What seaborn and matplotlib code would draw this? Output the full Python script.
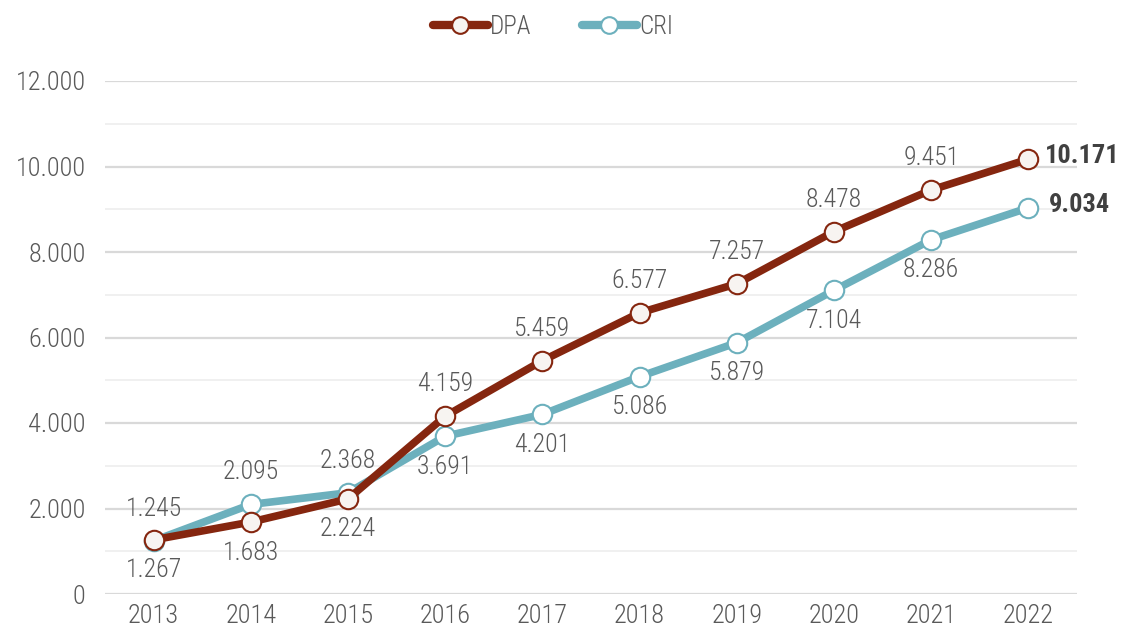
import matplotlib
matplotlib.use("Agg")
import matplotlib.pyplot as plt
import matplotlib.font_manager as fm
import seaborn as sns
import pandas as pd
from matplotlib.lines import Line2D

years = ["2013", "2014", "2015", "2016", "2017", "2018", "2019", "2020", "2021", "2022"]
dpa = [1267, 1683, 2224, 4159, 5459, 6577, 7257, 8478, 9451, 10171]
cri = [1245, 2095, 2368, 3691, 4201, 5086, 5879, 7104, 8286, 9034]
dpa_pos = ["below", "below", "below", "above", "above", "above", "above", "above", "above", "right"]
cri_pos = ["above", "above", "above", "below", "below", "below", "below", "below", "below", "right"]
yticks = [0, 2000, 4000, 6000, 8000, 10000, 12000]
ytick_labels = ["0", "2.000", "4.000", "6.000", "8.000", "10.000", "12.000"]

sns.set_theme(style="white")
fonts = fm.fontManager.ttflist
cands = ["Roboto Condensed", "Open Sans Condensed", "Liberation Sans Narrow", "Noto Sans Condensed"]
names = {f.name for f in fonts}
fam = None
stretch = "normal"
for c in cands:
    if c in names:
        fam = c
        break
if fam is None:
    for pref in ["Roboto", "Noto Sans", "Open Sans", "DejaVu Sans"]:
        for f in fonts:
            if f.name == pref and str(f.stretch) in ("condensed", "semi-condensed", "extra-condensed", "75", "87.5", "62.5"):
                fam = pref
                stretch = f.stretch
                break
        if fam:
            break
if fam is None:
    fam = "DejaVu Sans"
plt.rcParams["font.family"] = [fam, "DejaVu Sans"]
plt.rcParams["font.stretch"] = stretch
plt.rcParams["font.weight"] = "light"

RED = "#85260f"
TEAL = "#6cb0bd"
TXT = "#595959"
FILL = "#f7f4f1"

df = pd.DataFrame({
    "year": years * 2,
    "value": dpa + cri,
    "series": ["DPA"] * len(years) + ["CRI"] * len(years),
})

fig = plt.figure(figsize=(11.22, 6.29), dpi=100)
ax = fig.add_axes([105 / 1122, 35 / 629, 972 / 1122, 513 / 629])

for v in range(1000, 12000, 2000):
    ax.axhline(v, color="#efefef", lw=1.3, zorder=0)
for v in yticks:
    ax.axhline(v, color="#d9d9d9", lw=1.6, zorder=0)

sns.lineplot(data=df[df.series == "CRI"], x="year", y="value", ax=ax, color=TEAL,
             lw=5.5, marker="o", markersize=14, markerfacecolor="white",
             markeredgecolor=TEAL, markeredgewidth=1.5, sort=False, zorder=3, legend=False)
sns.lineplot(data=df[df.series == "DPA"], x="year", y="value", ax=ax, color=RED,
             lw=5.5, marker="o", markersize=14, markerfacecolor=FILL,
             markeredgecolor=RED, markeredgewidth=1.5, sort=False, zorder=4, legend=False)

def fmt(v):
    return f"{v:,}".replace(",", ".")

def label(vals, pos, right_off):
    for i, (v, p) in enumerate(zip(vals, pos)):
        if p == "above":
            ax.annotate(fmt(v), (i, v), xytext=(0, 23), textcoords="offset points",
                        ha="center", va="center", fontsize=18.5, color=TXT, zorder=5)
        elif p == "below":
            ax.annotate(fmt(v), (i, v), xytext=(0, -22), textcoords="offset points",
                        ha="center", va="center", fontsize=18.5, color=TXT, zorder=5)
        else:
            ax.annotate(fmt(v), (i, v), xytext=(right_off, 2), textcoords="offset points",
                        ha="left", va="center", fontsize=19, color="#404040",
                        fontweight="bold", zorder=5)

label(dpa, dpa_pos, 12)
label(cri, cri_pos, 15)

ax.set_xlim(-0.5, 9.5)
ax.set_ylim(0, 12000)
ax.set_yticks(yticks)
ax.set_yticklabels(ytick_labels)
ax.tick_params(axis="both", length=0, labelsize=19, labelcolor=TXT)
ax.tick_params(axis="y", pad=14)
ax.tick_params(axis="x", pad=7)
ax.set_xlabel("")
ax.set_ylabel("")
for s in ax.spines.values():
    s.set_visible(False)
ax.set_facecolor("none")

handles = [
    Line2D([], [], color=RED, lw=6, marker="o", markersize=12, markerfacecolor=FILL,
           markeredgecolor=RED, markeredgewidth=1.5, solid_capstyle="round"),
    Line2D([], [], color=TEAL, lw=6, marker="o", markersize=12, markerfacecolor="white",
           markeredgecolor=TEAL, markeredgewidth=1.5, solid_capstyle="round"),
]
leg = fig.legend(handles, ["DPA", "CRI"], loc="center", bbox_to_anchor=(553 / 1122, 1 - 27 / 629),
                 ncol=2, frameon=False, fontsize=18, handlelength=2.2, handletextpad=0.1,
                 columnspacing=2.0)
for t in leg.get_texts():
    t.set_color(TXT)

fig.savefig("out.png", dpi=100)
